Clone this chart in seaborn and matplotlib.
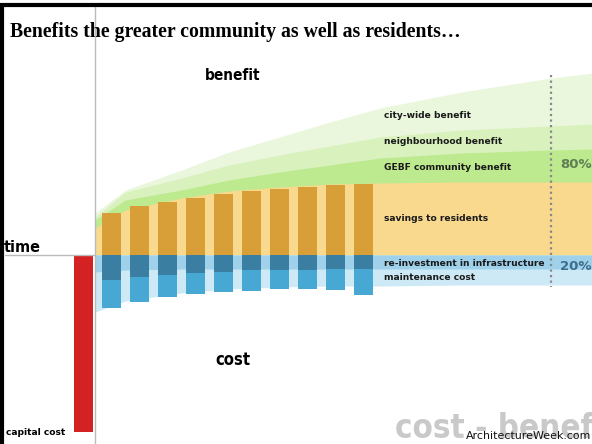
import numpy as np
import pandas as pd
import matplotlib.pyplot as plt
import seaborn as sns
from matplotlib.lines import Line2D
from matplotlib import font_manager
from matplotlib.font_manager import FontProperties
from matplotlib.textpath import TextPath

### data (heights in chart units, years on the time axis)
years = [1, 2, 3, 4, 5, 6, 7, 8, 9, 10]
savings = [42, 49, 53, 57, 61, 64, 66, 68, 70, 71]
reinvest = [25, 22, 20, 18, 17, 15, 15, 15, 14, 14]
maintenance = [28, 25, 22, 21, 20, 21, 19, 19, 21, 26]
capital_year = [0]
capital_cost = [177]

# background bands
band_years = [0.41, 1.5, 3.5, 5.2, 7.0, 8.8, 10.6, 13.5, 16.7, 18.2]
savings_top = [27, 45, 57, 64, 68, 71, 72, 73, 73, 73]
gebf_top = [35, 55, 65, 75, 83, 90, 97, 102, 105, 106]
neigh_top = [38, 63, 77, 90, 100, 109, 118, 125, 129, 131]
city_top = [42, 65, 85, 103, 118, 133, 147, 163, 177, 182]
reinvest_bottom = [-17, -15, -14, -14, -14, -14, -14, -14, -14, -14]
maint_bottom = [-57, -46, -38, -34, -32, -31, -31, -30, -30, -30]

band_labels = ['city-wide benefit', 'neighbourhood benefit', 'GEBF community benefit',
               'savings to residents', 're-investment in infrastructure', 'maintenance cost']

sns.set_style('white')
plt.rcParams['text.color'] = 'black'

# look for a narrow bold face for the poster-style words
narrow = FontProperties(family='Liberation Sans', weight='bold')
for f in font_manager.fontManager.ttflist:
    if ('Narrow' in f.name or 'Condensed' in f.name or f.stretch == 'condensed') \
            and f.name.startswith(('Liberation', 'DejaVu Sans')) and 'Mono' not in f.name:
        narrow = FontProperties(fname=f.fname)
        if f.weight in ('bold', 700):
            break

serif = FontProperties(family='Liberation Serif', weight='bold')
small = FontProperties(family='DejaVu Sans', weight='bold')
plain = FontProperties(family='DejaVu Sans')

def fit(s, width_px, fp):
    # font size (pt) that makes s about width_px wide
    w = TextPath((0, 0), s, size=1, prop=fp).get_extents().width
    return width_px / (w * 100 / 72)

fig = plt.figure(figsize=(5.92, 4.44), dpi=100)
ax = fig.add_axes([0, 0, 1, 1])

def px(x, y):
    # picture position -> chart units
    return (x - 83.5) / 28, 255 - y

#%% bands
ax.fill_between(band_years, 0, city_top, color='#eaf7dc', lw=0, zorder=1)
ax.fill_between(band_years, 0, neigh_top, color='#d8f1bd', lw=0, zorder=1)
ax.fill_between(band_years, 0, gebf_top, color='#bde98f', lw=0, zorder=1)
ax.fill_between(band_years, 0, savings_top, color='#f8d98e', lw=0, zorder=1)
ax.fill_between(band_years, 0, maint_bottom, color='#cde9f5', lw=0, zorder=1)
ax.fill_between(band_years, 0, reinvest_bottom, color='#9fd1ea', lw=0, zorder=1)

#%% bars
df = pd.DataFrame({'year': years, 'savings': savings,
                   'reinvest': [-v for v in reinvest],
                   'total': [-(a + b) for a, b in zip(reinvest, maintenance)]})
bar_kw = dict(native_scale=True, saturation=1, errorbar=None, ax=ax,
              linewidth=0, edgecolor='none', zorder=2)
sns.barplot(data=df, x='year', y='savings', width=0.68, color='#d89f39', **bar_kw)
sns.barplot(data=df, x='year', y='total', width=0.68, color='#46a8d3', **bar_kw)
sns.barplot(data=df, x='year', y='reinvest', width=0.68, color='#3a7ea2', **bar_kw)
cap = pd.DataFrame({'year': capital_year, 'cost': [-c for c in capital_cost]})
sns.barplot(data=cap, x='year', y='cost', width=0.71, color='#d42222', **bar_kw)

#%% axes lines
x0, _ = px(95, 0)
ax.plot([x0, x0], [px(0, 5)[1], px(0, 444)[1]], color='#bbbbbb', lw=1, zorder=3)
ax.plot([px(5, 0)[0], x0], [0, 0], color='#bbbbbb', lw=1, zorder=3)
xd, _ = px(551, 0)
ax.plot([xd, xd], [px(0, 75)[1], px(0, 287)[1]], color='#888888', lw=1.6,
        ls=(0, (1, 1.5)), zorder=3)

#%% text
title = 'Benefits the greater community as well as residents…'
ax.text(*px(10, 32), title, fontproperties=serif, fontsize=fit(title, 448, serif),
        va='center', ha='left')
ax.text(*px(233, 76), 'benefit', fontproperties=narrow, fontsize=fit('benefit', 54, narrow),
        ha='center', va='center')
ax.text(*px(4, 247), 'time', fontproperties=narrow, fontsize=fit('time', 36, narrow),
        ha='left', va='center')
ax.text(*px(233, 360), 'cost', fontproperties=narrow, fontsize=fit('cost', 34, narrow),
        ha='center', va='center')
ax.text(*px(6, 432), 'capital cost', fontproperties=small,
        fontsize=fit('capital cost', 59, small), ha='left', va='center')

label_y = [115, 141, 168, 218, 263, 278]
lab_fs = fit('re-investment in infrastructure', 160, small)
for lab, yy in zip(band_labels, label_y):
    ax.text(*px(384, yy), lab, fontproperties=small, fontsize=lab_fs,
            ha='left', va='center', color='#1a1a1a', zorder=4)
ax.text(*px(560, 164), '80%', fontproperties=small, fontsize=9.5,
        ha='left', va='center', color='#5f7f52', zorder=4)
ax.text(*px(560, 266), '20%', fontproperties=small, fontsize=9.5,
        ha='left', va='center', color='#3e6e8e', zorder=4)

ax.text(*px(395, 412), 'cost - benefit', fontproperties=narrow,
        fontsize=fit('cost', 68, narrow), ha='left', va='top', color='#c9c9c9', zorder=4)
ax.text(*px(591, 436), 'ArchitectureWeek.com', fontproperties=plain,
        fontsize=fit('ArchitectureWeek.com', 123, plain),
        ha='right', va='center', color='#111111', zorder=5)

ax.set_xlim(px(0, 0)[0], px(592, 0)[0])
ax.set_ylim(px(0, 444)[1], px(0, 0)[1])
ax.axis('off')

# black frame on the top and left edges
fig.add_artist(Line2D([0, 1], [1 - 5 / 444, 1 - 5 / 444], color='black', lw=3))
fig.add_artist(Line2D([2 / 592, 2 / 592], [0, 1 - 5 / 444], color='black', lw=3))

fig.savefig('out.png', dpi=100)
